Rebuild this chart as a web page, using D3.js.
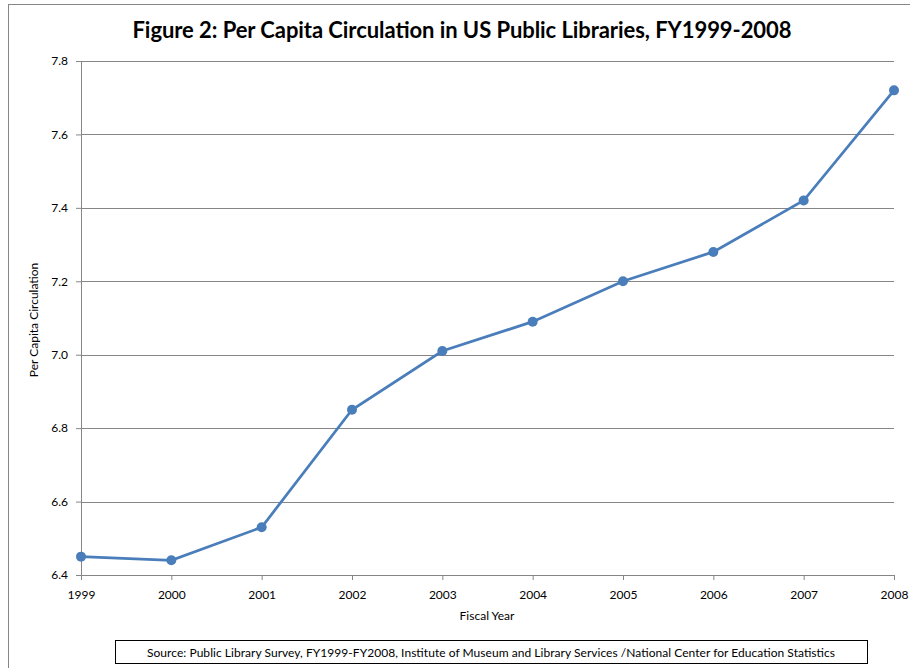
<!DOCTYPE html>
<html>
<head>
<meta charset="utf-8">
<script src="https://cdn.jsdelivr.net/npm/d3@7"></script>
<style>
  body { margin: 0; background: #fff; }
  text { font-family: Lato, "Liberation Sans", sans-serif; fill: #000; }
</style>
</head>
<body>
<div id="chart"></div>
<script>
// data
var years = [1999, 2000, 2001, 2002, 2003, 2004, 2005, 2006, 2007, 2008];
var circulation = [6.45, 6.44, 6.53, 6.85, 7.01, 7.09, 7.20, 7.28, 7.42, 7.72];
var yTicks = [6.4, 6.6, 6.8, 7.0, 7.2, 7.4, 7.6, 7.8];

var W = 910, H = 668;
var margin = { top: 61, right: 16, bottom: 93, left: 81 },
    width = W - margin.left - margin.right,
    height = H - margin.top - margin.bottom;

var svg = d3.select("#chart").append("svg")
    .attr("width", W)
    .attr("height", H);

// outer chart border (cut off at right / bottom)
svg.append("rect")
    .attr("x", 8.5).attr("y", 4.5)
    .attr("width", W + 20).attr("height", H + 20)
    .attr("fill", "none")
    .attr("stroke", "#868686")
    .attr("stroke-width", 1);

// title
svg.append("text")
    .attr("x", 462).attr("y", 38)
    .attr("text-anchor", "middle")
    .style("font-size", "22px")
    .style("font-weight", "bold")
    .attr("textLength", 659)
    .text("Figure 2: Per Capita Circulation in US Public Libraries, FY1999-2008");

var g = svg.append("g")
    .attr("transform", "translate(" + margin.left + "," + margin.top + ")");

var x = d3.scalePoint().domain(years).range([0, width]);
var y = d3.scaleLinear().domain([6.4, 7.8]).range([height, 0]);

// gridlines
g.append("g")
  .selectAll("line")
  .data(yTicks)
  .enter().append("line")
    .attr("x1", 0).attr("x2", width)
    .attr("y1", function(d) { return Math.round(y(d)) + 0.5; })
    .attr("y2", function(d) { return Math.round(y(d)) + 0.5; })
    .attr("stroke", "#868686")
    .attr("stroke-width", 1);

// axes
var yAxis = d3.axisLeft(y).tickValues(yTicks).tickSize(5).tickPadding(8)
    .tickFormat(d3.format(".1f"));
var xAxis = d3.axisBottom(x).tickSize(5).tickPadding(10).tickFormat(d3.format("d"));

var ya = g.append("g").attr("class", "yaxis").call(yAxis);
var xa = g.append("g").attr("class", "xaxis")
    .attr("transform", "translate(0," + height + ")").call(xAxis);

[ya, xa].forEach(function(a) {
  a.select(".domain").attr("stroke", "#868686");
  a.selectAll(".tick line").attr("stroke", "#868686");
  a.selectAll(".tick text").style("font-size", "12px").style("font-family", "Lato, sans-serif");
});

// axis titles
svg.append("text")
    .attr("transform", "translate(38," + 320 + ") rotate(-90)")
    .attr("text-anchor", "middle")
    .style("font-size", "12px")
    .text("Per Capita Circulation");

svg.append("text")
    .attr("x", 487).attr("y", 620)
    .attr("text-anchor", "middle")
    .style("font-size", "12px")
    .text("Fiscal Year");

// line
var line = d3.line()
    .x(function(d, i) { return x(years[i]); })
    .y(function(d) { return y(d); });

g.append("path")
    .datum(circulation)
    .attr("d", line)
    .attr("fill", "none")
    .attr("stroke", "#4a7ebb")
    .attr("stroke-width", 2.75);

g.selectAll(".dot")
    .data(circulation)
    .enter().append("circle")
    .attr("class", "dot")
    .attr("cx", function(d, i) { return x(years[i]); })
    .attr("cy", function(d) { return y(d); })
    .attr("r", 5)
    .attr("fill", "#4a7ebb");

// source box
svg.append("rect")
    .attr("x", 115.5).attr("y", 640.5)
    .attr("width", 752).attr("height", 23)
    .attr("fill", "#fff")
    .attr("stroke", "#000")
    .attr("stroke-width", 1);

svg.append("text")
    .attr("x", 491).attr("y", 657)
    .attr("text-anchor", "middle")
    .style("font-size", "12px")
    .attr("textLength", 688)
    .text("Source: Public Library Survey, FY1999-FY2008, Institute  of Museum and Library Services /National  Center for Education Statistics");
</script>
</body>
</html>
